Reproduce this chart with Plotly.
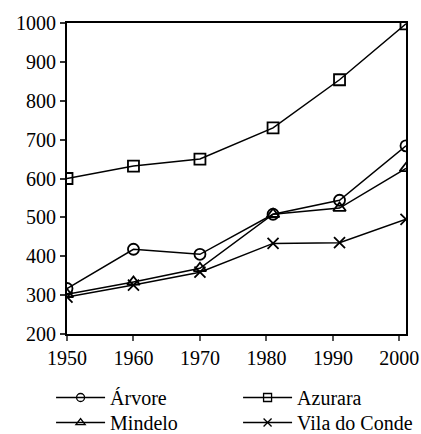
import plotly.graph_objects as go

years = [1950, 1960, 1970, 1981, 1991, 2001]
arvore = [317, 418, 405, 508, 544, 684]
azurara = [600, 632, 650, 730, 854, 998]
mindelo = [302, 334, 369, 508, 524, 626]
vila_do_conde = [295, 326, 359, 433, 435, 495]

series = [
    ("Árvore", arvore, "circle-open", "legend"),
    ("Azurara", azurara, "square-open", "legend"),
    ("Mindelo", mindelo, "triangle-up-open", "legend2"),
    ("Vila do Conde", vila_do_conde, "x-thin-open", "legend2"),
]

fig = go.Figure()
for name, vals, sym, lg in series:
    fig.add_trace(go.Scatter(
        x=years, y=vals, name=name, mode="lines+markers", showlegend=False,
        line=dict(color="black", width=1.5),
        marker=dict(symbol=sym, size=11, color="black",
                    line=dict(color="black", width=1.8)),
    ))
# legend entries (smaller symbols, as in the reference legend)
for name, vals, sym, lg in series:
    fig.add_trace(go.Scatter(
        x=[None], y=[None], name=name, mode="lines+markers", showlegend=True,
        legend=lg,
        line=dict(color="black", width=1.5),
        marker=dict(symbol=sym, size=8, color="black",
                    line=dict(color="black", width=1.3)),
    ))

font = dict(family="Liberation Serif", size=20, color="black")
leg = dict(orientation="h", xanchor="left", yanchor="top",
           entrywidth=123, entrywidthmode="pixels", itemwidth=49,
           font=font, tracegroupgap=0, bgcolor="rgba(0,0,0,0)")

fig.update_layout(
    width=421, height=434,
    margin=dict(l=67, r=15, t=23, b=100, autoexpand=False),
    plot_bgcolor="white", paper_bgcolor="white",
    font=font,
    showlegend=True,
    legend=dict(leg, x=-0.047, y=-0.1415),
    legend2=dict(leg, x=-0.047, y=-0.222),
    xaxis=dict(range=[1950, 2001], tickvals=[1950, 1960, 1970, 1980, 1990, 2000],
               showgrid=False, zeroline=False, showline=True, linecolor="black",
               linewidth=2, mirror=True, ticks="outside", ticklen=5,
               tickcolor="#555", tickwidth=1.5, automargin=False),
    yaxis=dict(range=[200, 1000], tickvals=list(range(200, 1001, 100)),
               showgrid=False, zeroline=False, showline=True, linecolor="black",
               linewidth=2, mirror=True, ticks="outside", ticklen=5,
               tickcolor="#333", tickwidth=1.5, automargin=False),
)

fig.write_html("out.html", config={"displayModeBar": False},
               post_script="document.body.style.margin='0';document.body.style.overflow='hidden';")
